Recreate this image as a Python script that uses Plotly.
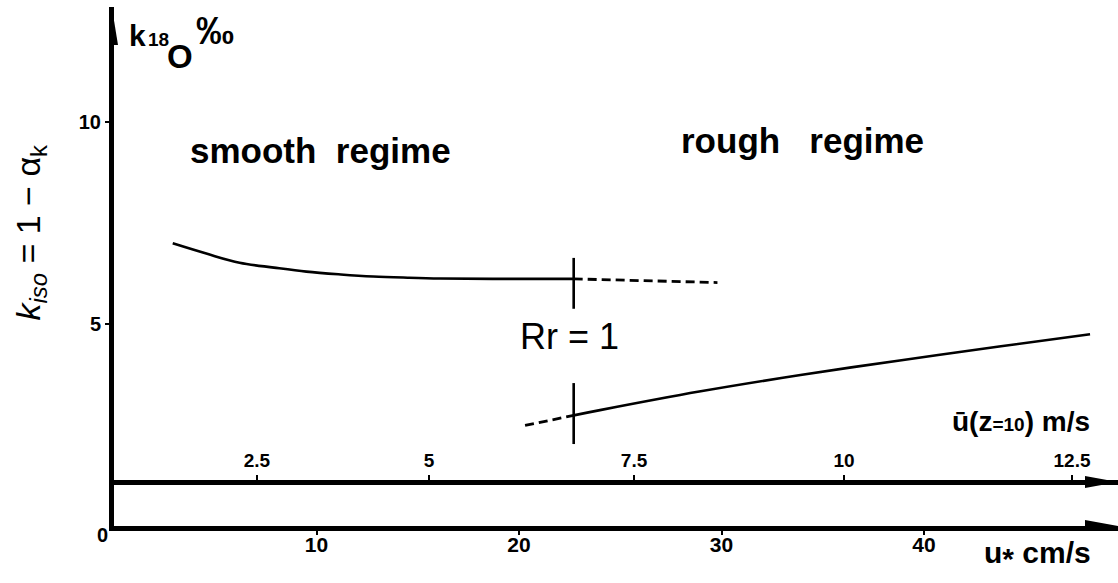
import plotly.graph_objects as go

# Kinetic fractionation of 18O versus friction velocity u* (cm/s)
smooth_ustar = [2.9, 4.6, 6.2, 7.9, 9.5, 11.2, 12.8, 14.5, 16.1, 19.0, 22.7]
smooth_k = [7.00, 6.74, 6.52, 6.40, 6.30, 6.23, 6.18, 6.15, 6.13, 6.12, 6.12]
smooth_ext_ustar = [22.7, 29.8]
smooth_ext_k = [6.12, 6.03]

rough_ext_ustar = [20.3, 22.7]
rough_ext_k = [2.49, 2.74]
rough_ustar = [22.7, 24.0, 28.9, 33.9, 38.8, 43.8, 48.2]
rough_k = [2.74, 2.87, 3.33, 3.74, 4.10, 4.45, 4.75]

rr_ustar = 22.7  # roughness Reynolds number Rr = 1

ustar_ticks = [10, 20, 30, 40]
k_ticks = [5, 10]
u10_labels = ["2.5", "5", "7.5", "10", "12.5"]
u10_at_ustar = [7.06, 15.56, 25.68, 36.05, 47.31]

X_MAX = 49.58
Y_MAX = 12.854
U_AXIS_POS = 0.085

FONT = "Liberation Sans, Arial, sans-serif"
BLACK = "#000000"

fig = go.Figure()

solid = dict(color=BLACK, width=2.6)
dashed = dict(color=BLACK, width=2.8, dash="9px,5px")

fig.add_trace(go.Scatter(x=smooth_ustar, y=smooth_k, mode="lines",
                         line=dict(solid, shape="spline"), hoverinfo="skip"))
fig.add_trace(go.Scatter(x=smooth_ext_ustar, y=smooth_ext_k, mode="lines",
                         line=dashed, hoverinfo="skip"))
fig.add_trace(go.Scatter(x=rough_ext_ustar, y=rough_ext_k, mode="lines",
                         line=dashed, hoverinfo="skip"))
fig.add_trace(go.Scatter(x=rough_ustar, y=rough_k, mode="lines",
                         line=dict(solid, shape="spline"), hoverinfo="skip"))

# short vertical marks where Rr = 1
k_smooth_rr = smooth_k[-1]
k_rough_rr = rough_k[0]
fig.add_trace(go.Scatter(x=[rr_ustar, rr_ustar],
                         y=[k_smooth_rr - 0.74, k_smooth_rr + 0.52],
                         mode="lines", line=dict(color=BLACK, width=2.6),
                         hoverinfo="skip"))
fig.add_trace(go.Scatter(x=[rr_ustar, rr_ustar],
                         y=[k_rough_rr - 0.71, k_rough_rr + 0.80],
                         mode="lines", line=dict(color=BLACK, width=2.6),
                         hoverinfo="skip"))

bold = lambda size: dict(family=FONT, size=size, color=BLACK, weight="bold")
plain = lambda size: dict(family=FONT, size=size, color=BLACK)

annotations = [
    dict(x=10.2, y=9.31, text="smooth&nbsp;&nbsp;regime", font=bold(35)),
    dict(x=34.0, y=9.56, text="rough&nbsp;&nbsp;&nbsp;regime", font=bold(35)),
    dict(x=rr_ustar - 0.2, y=4.69, text="Rr = 1", font=plain(36)),
    dict(x=48.3, y=2.58, xanchor="right",
         text="\u016b(z<span style='font-size:19px'>=10</span>) m/s", font=bold(28)),
    # axis label of the k axis: k 18O per mil
    dict(x=1.16, y=12.14, text="k", font=bold(30)),
    dict(x=2.22, y=12.06, text="18", font=bold(19)),
    dict(x=3.26, y=11.62, text="O", font=bold(33)),
    dict(x=5.0, y=12.26, text="\u2030", font=bold(38)),
    # labels sitting outside the plotting area use paper coordinates
    dict(xref="paper", yref="paper", x=0.975, y=-0.057, xanchor="right",
         text="u<sub><span style='font-size:30px'>*</span></sub>&nbsp;cm/s",
         font=bold(30)),
    dict(xref="paper", yref="paper", x=-0.011, y=-0.017, text="0", font=bold(20)),
    dict(xref="paper", yref="paper", x=-0.083, y=0.565, textangle=-90,
         text="<i>k</i><sub><i>iso</i></sub> = 1 \u2212 \u03b1<sub>k</sub>",
         font=plain(34)),
]
for a in annotations:
    a.setdefault("xref", "x")
    a.setdefault("yref", "y")
    a.setdefault("showarrow", False)
    a.setdefault("xanchor", "center")
    a.setdefault("yanchor", "middle")

# arrowheads at the ends of the three axes
shapes = [
    dict(type="path", xref="x", yref="y", xsizemode="pixel", ysizemode="pixel",
         xanchor=X_MAX, yanchor=0, path="M0,0 L-33,6 L-33,-6 Z",
         fillcolor=BLACK, line=dict(width=0)),
    dict(type="path", xref="x", yref="paper", xsizemode="pixel", ysizemode="pixel",
         xanchor=X_MAX, yanchor=U_AXIS_POS, path="M0,0 L-33,6 L-33,-6 Z",
         fillcolor=BLACK, line=dict(width=0)),
    dict(type="path", xref="x", yref="y", xsizemode="pixel", ysizemode="pixel",
         xanchor=0, yanchor=Y_MAX, path="M-2.5,2 L-9,-38 L4,-38 Z",
         fillcolor=BLACK, line=dict(width=0)),
]

fig.update_layout(
    width=1118, height=583,
    margin=dict(l=114, r=0, t=7, b=56.7, pad=0),
    paper_bgcolor="white", plot_bgcolor="white",
    showlegend=False,
    annotations=annotations,
    shapes=shapes,
    xaxis=dict(range=[0, X_MAX], showgrid=False, zeroline=False,
               showline=True, linewidth=5, linecolor=BLACK,
               tickvals=ustar_ticks, ticks="outside", ticklen=4, tickwidth=2,
               tickcolor=BLACK, tickfont=bold(21), ticklabelstandoff=-8),
    xaxis2=dict(range=[0, X_MAX], overlaying="x", anchor="free",
                position=U_AXIS_POS, side="top", showgrid=False, zeroline=False,
                showline=True, linewidth=5, linecolor=BLACK,
                tickvals=u10_at_ustar, ticktext=u10_labels, ticks="outside",
                ticklen=5, tickwidth=2, tickcolor=BLACK, tickfont=bold(19)),
    yaxis=dict(range=[0, Y_MAX], showgrid=False, zeroline=False,
               showline=True, linewidth=5, linecolor=BLACK,
               tickvals=k_ticks, ticks="outside", ticklen=4, tickwidth=2,
               tickcolor=BLACK, tickfont=bold(20)),
)

# a hidden trace keeps the upper wind-speed axis in place
fig.add_trace(go.Scatter(x=[0], y=[0], xaxis="x2", mode="markers",
                         marker=dict(opacity=0), hoverinfo="skip"))

fig.write_html("out.html")
